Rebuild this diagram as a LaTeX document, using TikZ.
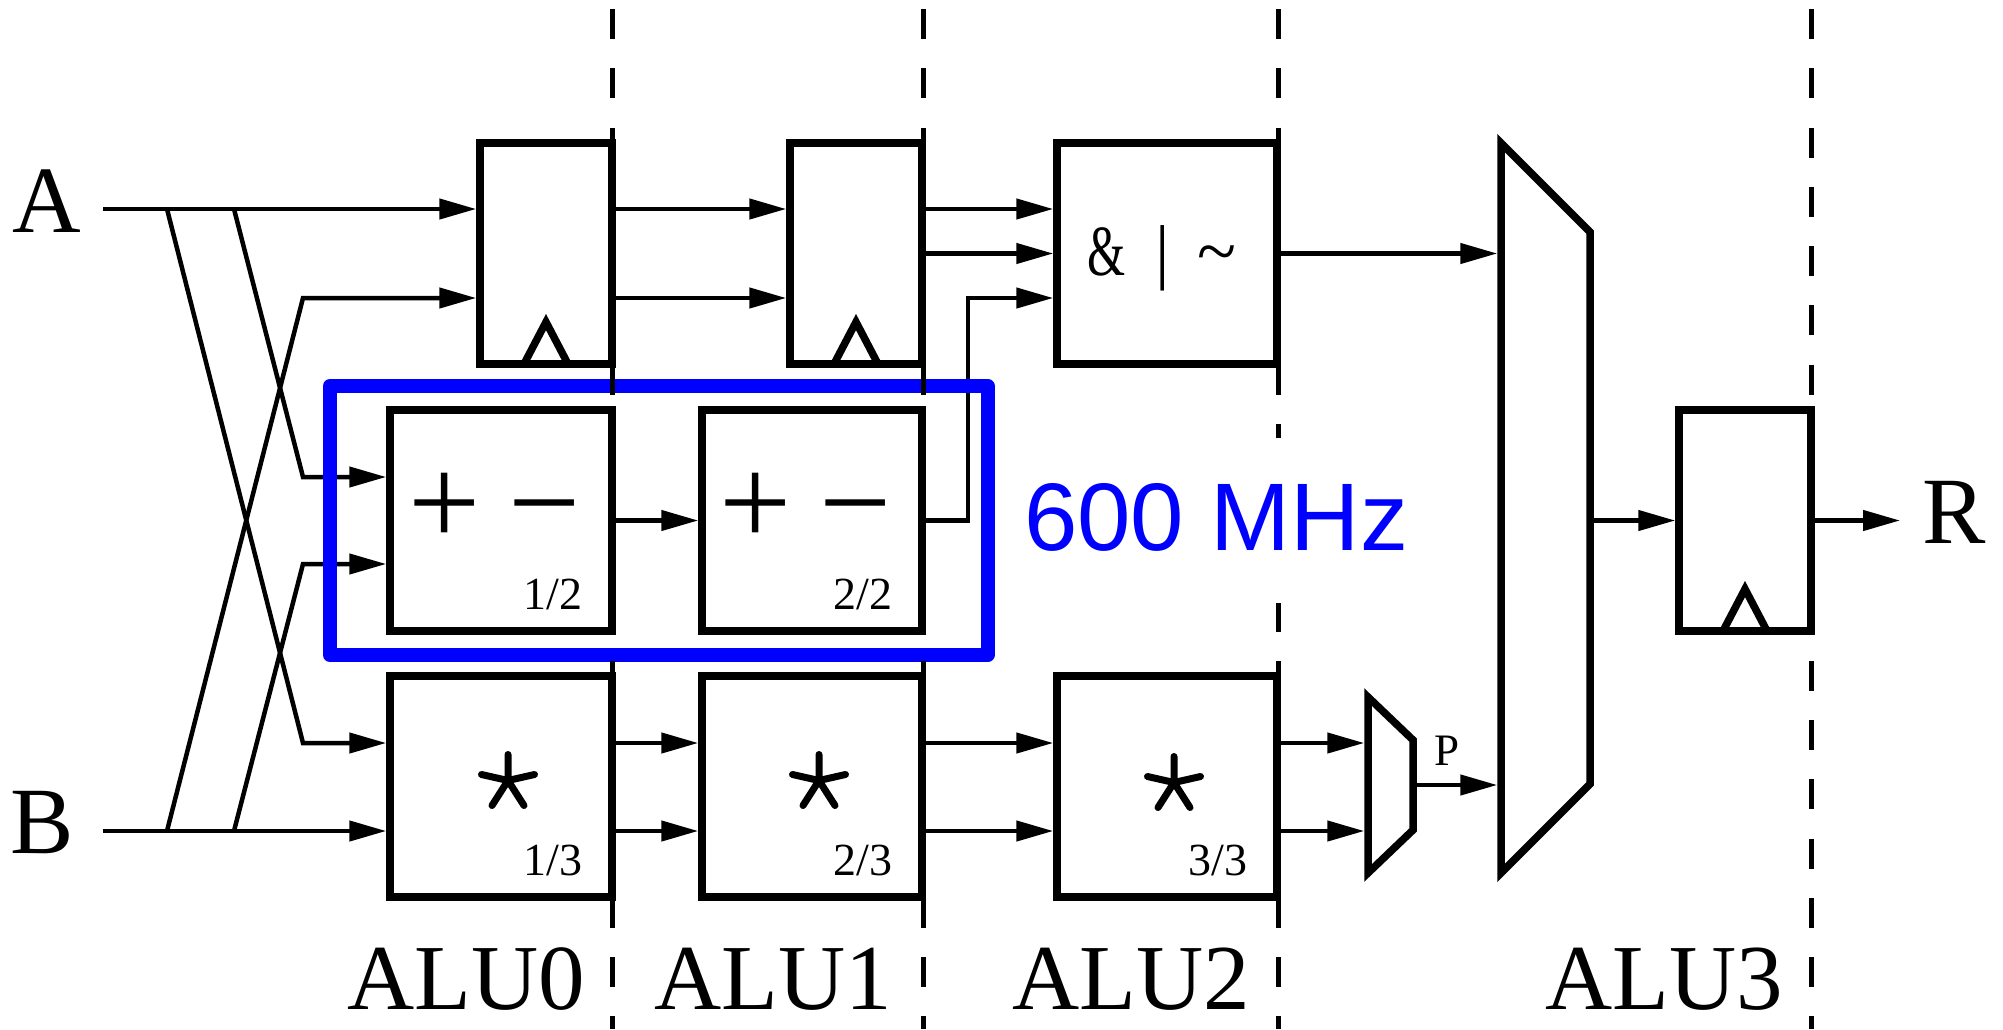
\documentclass[tikz,border=0pt]{standalone}
\usepackage{fontspec}
\usepackage{graphicx}
\setmainfont{Liberation Serif}
\newfontfamily\sansf{Liberation Sans}
\usetikzlibrary{arrows.meta,calc}
\definecolor{pureblue}{RGB}{0,0,255}
\tikzset{
  box/.style={draw, line width=7.5pt, fill=white, inner sep=0pt},
  conn/.style={line width=4.5pt, -{Triangle[length=37pt,width=20pt]}},
  clk/.style={line width=7.5pt},
  muxline/.style={line width=7.5pt, line join=miter},
  sep/.style={line width=5pt, dash pattern=on 30pt off 29.25pt, dash phase=50.25pt},
  bigl/.style={font=\fontsize{95pt}{100pt}\selectfont, inner sep=0pt, anchor=base},
  alul/.style={font=\fontsize{93pt}{100pt}\selectfont, inner sep=0pt, anchor=base},
  frac/.style={font=\fontsize{46pt}{50pt}\selectfont, inner sep=0pt, anchor=base east},
  pmtxt/.style={font=\fontsize{128pt}{130pt}\selectfont, inner sep=0pt},
  mulstar/.pic={
    \draw[line width=7pt, line cap=round]
      (0,0) -- (0,-26) (0,0) -- (-26.5,-6) (0,0) -- (26.5,-6)
      (0,0) -- (-16,25) (0,0) -- (16,25);
  },
}
\begin{document}
\begin{tikzpicture}[x=1pt,y=-1pt]
\useasboundingbox (0,0) rectangle (2003,1029);

% boxes
\node[box, minimum width=132pt, minimum height=221pt] (reg1) at (546,253.5) {};
\node[box, minimum width=132pt, minimum height=221pt] (reg2) at (856,253.5) {};
\node[box, minimum width=220pt, minimum height=221pt] (and) at (1167,253.5) {};
\node[box, minimum width=222pt, minimum height=221pt] (pm1) at (501,520.5) {};
\node[box, minimum width=220pt, minimum height=221pt] (pm2) at (812,520.5) {};
\node[box, minimum width=222pt, minimum height=221pt] (mul1) at (501,786.5) {};
\node[box, minimum width=220pt, minimum height=221pt] (mul2) at (812,786.5) {};
\node[box, minimum width=220pt, minimum height=221pt] (mul3) at (1167,786.5) {};
\node[box, minimum width=132pt, minimum height=221pt] (reg3) at (1745,520.5) {};

% multiplexers
\draw[muxline] (1368,697) -- (1413,740) -- (1413,830) -- (1368,873) -- cycle;
\draw[muxline] (1501,143) -- (1590,232) -- (1590,784) -- (1501,873) -- cycle;

% clock triangles
\draw[clk] (524,364) -- (546,322) -- (568,364);
\draw[clk] (834,364) -- (856,322) -- (878,364);
\draw[clk] (1723,631) -- (1745,589) -- (1767,631);

% coordinates
\coordinate (ain) at (103,209);
\coordinate (bin) at (103,831);
\coordinate (a1) at (167,209);
\coordinate (a2) at (234,209);
\coordinate (b1) at (167,831);
\coordinate (b2) at (234,831);
\coordinate (k1) at (303,298);
\coordinate (k2) at (303,477);
\coordinate (k3) at (303,564);
\coordinate (k4) at (303,743);
\coordinate (p2u) at (968,520.5);
\coordinate (p2t) at (968,298);
\coordinate (sm1) at (1364.25,743);
\coordinate (sm2) at (1364.25,831);
\coordinate (smo) at (1416.75,785);
\coordinate (bm1) at (1497.25,253.5);
\coordinate (bm2) at (1497.25,785);
\coordinate (bmo) at (1593.75,520.5);
\coordinate (rout) at (1900,520.5);

% input wiring
\draw[conn] (ain) -- (ain -| reg1.west);
\draw[conn] (bin) -- (bin -| mul1.west);
\draw[conn] (a1) -- (k4) -- (k4 -| mul1.west);
\draw[conn] (a2) -- (k2) -- (k2 -| pm1.west);
\draw[conn] (b1) -- (k1) -- (k1 -| reg1.west);
\draw[conn] (b2) -- (k3) -- (k3 -| pm1.west);

% pipeline wiring
\draw[conn] (reg1.east |- ain) -- (reg2.west |- ain);
\draw[conn] (reg1.east |- k1) -- (reg2.west |- k1);
\draw[conn] (reg2.east |- ain) -- (and.west |- ain);
\draw[conn] (reg2.east) -- (and.west);
\draw[conn] (pm1.east) -- (pm2.west);
\draw[conn] (pm2.east) -- (p2u) -- (p2t) -- (and.west |- p2t);
\draw[conn] (mul1.east |- k4) -- (mul2.west |- k4);
\draw[conn] (mul1.east |- bin) -- (mul2.west |- bin);
\draw[conn] (mul2.east |- k4) -- (mul3.west |- k4);
\draw[conn] (mul2.east |- bin) -- (mul3.west |- bin);
\draw[conn] (mul3.east |- sm1) -- (sm1);
\draw[conn] (mul3.east |- sm2) -- (sm2);
\draw[conn] (smo) -- (bm2);
\draw[conn] (and.east) -- (bm1);
\draw[conn] (bmo) -- (reg3.west);
\draw[conn] (reg3.east) -- (rout);

% box contents
\node[pmtxt] (pmt1) at ($(pm1.center)+(-6,-11.5)$) {+\hspace{-4pt} −};
\node[pmtxt] (pmt2) at ($(pm2.center)+(-6,-11.5)$) {+\hspace{-4pt} −};
\node[frac] (f12) at ($(pm1.south east)+(-33,-25)$) {1/2};
\node[frac] (f22) at ($(pm2.south east)+(-33,-25)$) {2/2};
\node[frac] (f13) at ($(mul1.south east)+(-33,-25)$) {1/3};
\node[frac] (f23) at ($(mul2.south east)+(-33,-25)$) {2/3};
\node[frac] (f33) at ($(mul3.south east)+(-33,-25)$) {3/3};
\pic (s1) at ($(mul1.center)+(7,-6)$) {mulstar};
\pic (s2) at ($(mul2.center)+(7,-6)$) {mulstar};
\pic (s3) at ($(mul3.center)+(7,-4)$) {mulstar};
\node[font=\fontsize{72pt}{74pt}\selectfont, inner sep=0pt, anchor=base west] (ops) at (1087,275)
  {\scalebox{0.68}[1]{\&}\hspace{30pt}|\hspace{28pt}\textasciitilde};

% 600 MHz domain
\draw[pureblue, line width=14pt, line join=round] (330,386) rectangle (987.5,655);

% ALU separators
\draw[sep] (612,0) -- (612,1029);
\draw[sep] (923,0) -- (923,1029);
\draw[sep] (1278,0) -- (1278,1029);
\draw[sep] (1811,0) -- (1811,1029);

\node[fill=white, text=pureblue, font=\sansf\fontsize{96pt}{100pt}\selectfont,
  inner xsep=10pt, inner ysep=0pt, text height=112pt, text depth=53pt, anchor=base west]
  (mhz) at (1014,550) {600 MHz};

% labels
\node[bigl] (A) at (47,232) {A};
\node[bigl] (B) at (42,853) {B};
\node[bigl] (R) at (1954,543) {R};
\node[font=\fontsize{45pt}{48pt}\selectfont, inner sep=0pt, anchor=base] (P) at (1447,765) {P};
\node[alul] (alu0) at (466,1009) {ALU0};
\node[alul] (alu1) at (773,1009) {ALU1};
\node[alul] (alu2) at (1131,1009) {ALU2};
\node[alul] (alu3) at (1664,1009) {ALU3};
\end{tikzpicture}
\end{document}
